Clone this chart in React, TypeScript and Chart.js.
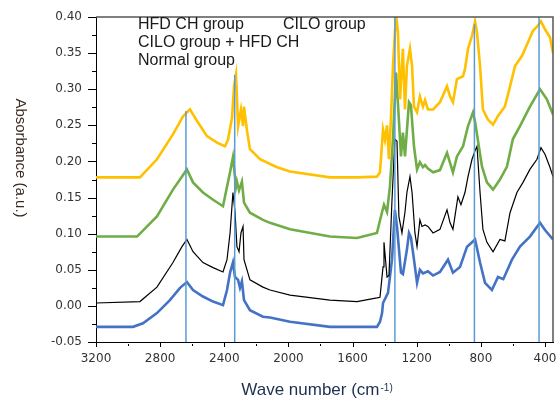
import { useEffect, useRef } from "react";
import { Chart, registerables } from "chart.js";

Chart.register(...registerables);

// ---- Data (wave number in cm-1, absorbance in a.u.) ----
const hfdWave = [3200, 2926, 2820, 2720, 2657, 2614, 2570, 2508, 2445, 2396, 2377, 2352, 2339, 2327, 2314, 2296, 2283, 2277, 2258, 2240, 2177, 2071, 1990, 1741, 1572, 1448, 1429, 1410, 1398, 1385, 1373, 1360, 1348, 1329, 1317, 1304, 1286, 1273, 1261, 1242, 1229, 1217, 1198, 1180, 1161, 1148, 1130, 1098, 1055, 1011, 992, 974, 949, 911, 899, 880, 855, 836, 824, 805, 787, 756, 724, 693, 650, 618, 587, 544, 506, 475, 444, 425, 400, 369, 350];
const hfdAbs = [0.178, 0.178, 0.203, 0.2375, 0.2625, 0.272, 0.256, 0.235, 0.226, 0.221, 0.23, 0.26, 0.304, 0.32, 0.249, 0.272, 0.249, 0.276, 0.242, 0.217, 0.203, 0.192, 0.186, 0.178, 0.178, 0.179, 0.185, 0.244, 0.23, 0.25, 0.203, 0.263, 0.332, 0.404, 0.379, 0.286, 0.356, 0.272, 0.332, 0.356, 0.332, 0.276, 0.268, 0.29, 0.276, 0.285, 0.272, 0.272, 0.282, 0.304, 0.29, 0.282, 0.314, 0.318, 0.328, 0.356, 0.374, 0.394, 0.379, 0.332, 0.272, 0.258, 0.251, 0.263, 0.276, 0.304, 0.332, 0.346, 0.365, 0.381, 0.388, 0.394, 0.383, 0.372, 0.35];

const ciloHfdWave = [3200, 2944, 2820, 2720, 2633, 2595, 2533, 2470, 2408, 2383, 2364, 2346, 2327, 2321, 2308, 2290, 2277, 2240, 2159, 2115, 1990, 1741, 1572, 1448, 1416, 1404, 1385, 1367, 1348, 1329, 1317, 1298, 1286, 1273, 1248, 1236, 1217, 1198, 1180, 1161, 1148, 1130, 1098, 1055, 1011, 974, 949, 911, 880, 849, 836, 793, 762, 724, 681, 637, 600, 556, 494, 431, 388, 350];
const ciloHfdAbs = [0.096, 0.096, 0.124, 0.161, 0.189, 0.171, 0.157, 0.147, 0.138, 0.165, 0.185, 0.206, 0.165, 0.172, 0.16, 0.172, 0.143, 0.129, 0.119, 0.115, 0.106, 0.096, 0.094, 0.101, 0.13, 0.14, 0.13, 0.165, 0.231, 0.323, 0.28, 0.207, 0.24, 0.207, 0.282, 0.278, 0.221, 0.189, 0.199, 0.192, 0.195, 0.19, 0.185, 0.188, 0.212, 0.185, 0.207, 0.221, 0.249, 0.268, 0.255, 0.193, 0.171, 0.161, 0.175, 0.193, 0.231, 0.249, 0.276, 0.3, 0.286, 0.265];

const normalWave = [3200, 2926, 2820, 2720, 2664, 2633, 2595, 2533, 2470, 2408, 2383, 2364, 2346, 2333, 2321, 2308, 2296, 2283, 2277, 2240, 2159, 2115, 1990, 1741, 1572, 1448, 1429, 1410, 1404, 1385, 1373, 1354, 1336, 1323, 1311, 1292, 1273, 1261, 1242, 1229, 1211, 1198, 1180, 1167, 1148, 1130, 1098, 1055, 1011, 992, 974, 943, 924, 899, 880, 855, 836, 824, 805, 787, 762, 724, 681, 650, 618, 575, 537, 494, 450, 425, 400, 369, 350];
const normalAbs = [0.004, 0.006, 0.026, 0.06, 0.082, 0.092, 0.075, 0.06, 0.053, 0.047, 0.064, 0.101, 0.157, 0.13, 0.082, 0.075, 0.101, 0.11, 0.064, 0.036, 0.026, 0.022, 0.015, 0.008, 0.006, 0.011, 0.012, 0.054, 0.088, 0.04, 0.042, 0.147, 0.231, 0.228, 0.124, 0.101, 0.13, 0.157, 0.179, 0.157, 0.101, 0.082, 0.119, 0.11, 0.112, 0.11, 0.101, 0.106, 0.133, 0.115, 0.106, 0.151, 0.14, 0.157, 0.179, 0.203, 0.215, 0.221, 0.157, 0.106, 0.088, 0.075, 0.092, 0.09, 0.129, 0.157, 0.171, 0.189, 0.203, 0.219, 0.21, 0.192, 0.179];

const ciloWave = [3200, 2969, 2907, 2820, 2739, 2676, 2633, 2595, 2533, 2470, 2408, 2383, 2364, 2346, 2333, 2314, 2302, 2290, 2277, 2240, 2159, 2115, 1990, 1741, 1448, 1429, 1416, 1410, 1379, 1354, 1336, 1323, 1298, 1286, 1261, 1248, 1236, 1217, 1198, 1180, 1161, 1130, 1098, 1055, 1005, 974, 930, 886, 836, 805, 774, 731, 693, 660, 606, 556, 494, 431, 400, 350];
const ciloAbs = [-0.029, -0.029, -0.024, -0.01, 0.008, 0.025, 0.033, 0.022, 0.013, 0.006, 0.001, 0.022, 0.046, 0.06, 0.04, 0.036, 0.025, 0.034, 0.008, -0.006, -0.015, -0.016, -0.022, -0.029, -0.029, -0.022, -0.01, 0.004, 0.018, 0.064, 0.133, 0.11, 0.046, 0.044, 0.078, 0.101, 0.095, 0.064, 0.032, 0.05, 0.045, 0.048, 0.042, 0.047, 0.064, 0.046, 0.054, 0.082, 0.092, 0.06, 0.032, 0.022, 0.04, 0.037, 0.064, 0.082, 0.096, 0.115, 0.105, 0.092];

const markerWave = [2639, 2335, 1336, 840, 437];
const markerTop = [0.27, 0.32, 0.4, 0.39, 0.4];

const legendLabels = ["HFD CH group", "CILO group", "CILO group + HFD CH", "Normal group"];
const xTickValues = [3200, 2800, 2400, 2000, 1600, 1200, 800, 400];
const xMinorValues = [3000, 2600, 2200, 1800, 1400, 1000, 600];
const yTickValues = [-0.05, 0, 0.05, 0.1, 0.15, 0.2, 0.25, 0.3, 0.35, 0.4];
const yMinorValues = [-0.025, 0.025, 0.075, 0.125, 0.175, 0.225, 0.275, 0.325, 0.375];
const xTitle = "Wave number (cm";
const xTitleSup = "-1)";
const yTitle = "Absorbance (a.u.)";

const pts = (xs: number[], ys: number[]) => xs.map((x, i) => ({ x, y: ys[i] }));

const decorPlugin = {
  id: "decor",
  afterDraw(chart: any) {
    const { ctx, chartArea } = chart;
    const xs = chart.scales.x;
    const ys = chart.scales.y;
    ctx.save();
    // frame top & right
    ctx.strokeStyle = "#555";
    ctx.lineWidth = 1.5;
    ctx.beginPath();
    ctx.moveTo(chartArea.left, chartArea.top);
    ctx.lineTo(chartArea.right, chartArea.top);
    ctx.lineTo(chartArea.right, chartArea.bottom);
    ctx.stroke();
    // tick marks
    ctx.strokeStyle = "#000";
    ctx.lineWidth = 1;
    ctx.beginPath();
    xTickValues.forEach((v) => {
      const p = Math.round(xs.getPixelForValue(v)) + 0.5;
      ctx.moveTo(p, chartArea.bottom);
      ctx.lineTo(p, chartArea.bottom + 5);
    });
    xMinorValues.forEach((v) => {
      const p = Math.round(xs.getPixelForValue(v)) + 0.5;
      ctx.moveTo(p, chartArea.bottom + 2);
      ctx.lineTo(p, chartArea.bottom + 4);
    });
    yTickValues.forEach((v) => {
      const p = Math.round(ys.getPixelForValue(v)) + 0.5;
      ctx.moveTo(chartArea.left - 8, p);
      ctx.lineTo(chartArea.left, p);
    });
    yMinorValues.forEach((v) => {
      const p = Math.round(ys.getPixelForValue(v)) + 0.5;
      ctx.moveTo(chartArea.left - 4, p);
      ctx.lineTo(chartArea.left, p);
    });
    ctx.stroke();
    // legend text
    ctx.fillStyle = "#1a1a1a";
    ctx.font = "16px 'Liberation Sans', Arial, sans-serif";
    ctx.textBaseline = "middle";
    ctx.textAlign = "left";
    const legendPos = [
      [138, 25],
      [283, 25],
      [138, 43],
      [138, 61],
    ];
    legendLabels.forEach((t, i) => ctx.fillText(t, legendPos[i][0], legendPos[i][1]));
    // x title
    ctx.textBaseline = "alphabetic";
    ctx.font = "17px 'Liberation Sans', Arial, sans-serif";
    const w1 = ctx.measureText(xTitle).width;
    ctx.font = "10px 'Liberation Sans', Arial, sans-serif";
    const w2 = ctx.measureText(xTitleSup).width;
    const start = 317 - (w1 + w2 + 1) / 2;
    ctx.fillStyle = "#1f2f4f";
    ctx.font = "17px 'Liberation Sans', Arial, sans-serif";
    ctx.fillText(xTitle, start, 395);
    ctx.font = "10px 'Liberation Sans', Arial, sans-serif";
    ctx.fillText(xTitleSup, start + w1 + 1, 391);
    // y title (rotated clockwise)
    ctx.translate(20, 158);
    ctx.rotate(Math.PI / 2);
    ctx.fillStyle = "#3b2a20";
    ctx.font = "15px 'Liberation Sans', Arial, sans-serif";
    ctx.textAlign = "center";
    ctx.textBaseline = "middle";
    ctx.fillText(yTitle, 0, 0);
    ctx.restore();
  },
};

export default function App() {
  const ref = useRef<HTMLCanvasElement | null>(null);
  useEffect(() => {
    document.body.style.margin = "0";
    const canvas = ref.current;
    if (!canvas) return;
    const series = [
      { label: legendLabels[0], w: hfdWave, a: hfdAbs, color: "#FFC000", lw: 2.6 },
      { label: legendLabels[2], w: ciloHfdWave, a: ciloHfdAbs, color: "#70AD47", lw: 2.6 },
      { label: legendLabels[3], w: normalWave, a: normalAbs, color: "#000000", lw: 1.2 },
      { label: legendLabels[1], w: ciloWave, a: ciloAbs, color: "#4472C4", lw: 2.6 },
    ];
    const datasets: any[] = series.map((s, i) => ({
      label: s.label,
      data: pts(s.w, s.a),
      borderColor: s.color,
      backgroundColor: s.color,
      borderWidth: s.lw,
      pointRadius: 0,
      tension: 0,
      fill: false,
      order: 2 + i,
    }));
    markerWave.forEach((w, i) => {
      datasets.push({
        label: "marker" + i,
        data: [
          { x: w, y: -0.05 },
          { x: w, y: markerTop[i] },
        ],
        borderColor: "#5B9BD5",
        borderWidth: 1.5,
        pointRadius: 0,
        fill: false,
        order: 1,
      });
    });
    const chart = new Chart(canvas, {
      type: "line",
      data: { datasets },
      options: {
        responsive: false,
        animation: false,
        devicePixelRatio: 1,
        layout: { padding: { top: 17, right: 5, left: 0, bottom: 0 } },
        plugins: { legend: { display: false }, tooltip: { enabled: false }, title: { display: false } },
        scales: {
          x: {
            type: "linear",
            reverse: true,
            min: 350,
            max: 3200,
            afterFit: (s: any) => {
              s.height = 56;
              s.paddingLeft = 0;
              s.paddingRight = 0;
            },
            afterBuildTicks: (s: any) => {
              s.ticks = xTickValues.map((v) => ({ value: v }));
            },
            grid: { drawOnChartArea: false, color: "rgba(0,0,0,0)", tickLength: 5 },
            border: { display: true, color: "#000", width: 1 },
            ticks: {
              autoSkip: false,
              maxRotation: 0,
              padding: 5,
              color: "#333",
              font: { family: "'DejaVu Sans', sans-serif", size: 12 },
              callback: (v: any) => String(v),
            },
          },
          y: {
            type: "linear",
            min: -0.05,
            max: 0.4,
            afterFit: (s: any) => {
              s.width = 96;
              s.paddingTop = 0;
              s.paddingBottom = 0;
            },
            afterBuildTicks: (s: any) => {
              s.ticks = yTickValues.map((v) => ({ value: v }));
            },
            grid: { drawOnChartArea: false, color: "rgba(0,0,0,0)", tickLength: 8 },
            border: { display: true, color: "#000", width: 1 },
            ticks: {
              padding: 6,
              color: "#333",
              font: { family: "'DejaVu Sans', sans-serif", size: 12 },
              callback: (v: any) => Number(v).toFixed(2),
            },
          },
        },
      },
      plugins: [decorPlugin],
    });
    return () => chart.destroy();
  }, []);
  return <canvas ref={ref} width={558} height={398} style={{ display: "block" }} />;
}
